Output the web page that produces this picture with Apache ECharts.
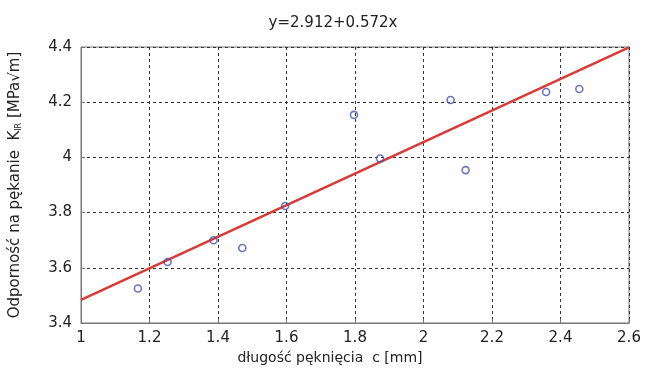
<!DOCTYPE html>
<html>
<head>
<meta charset="utf-8">
<script src="https://cdn.jsdelivr.net/npm/echarts@6/dist/echarts.min.js"></script>
<style>
  html, body { margin: 0; padding: 0; background: #fff; }
  #chart { width: 646px; height: 370px; }
</style>
</head>
<body>
<div id="chart"></div>
<script>
// measured points: crack length c [mm] vs fracture toughness K [MPa√m]
const crackLength = [1.166, 1.253, 1.387, 1.471, 1.596, 1.797, 1.873, 2.079, 2.123, 2.358, 2.455];
const toughness = [3.525, 3.621, 3.700, 3.672, 3.824, 4.154, 3.996, 4.208, 3.954, 4.237, 4.248];

// fitted line y = 2.912 + 0.572x, endpoints at the axis limits
const fitX = [1, 2.6];
const fitY = [3.484, 4.399];

const fitTitle = 'y=2.912+0.572x';
const xName = 'długość pęknięcia  c [mm]';

const font = '"DejaVu Sans", "Liberation Sans", Arial, sans-serif';
const textColor = '#222';

const chart = echarts.init(document.getElementById('chart'));

chart.setOption({
  animation: false,
  backgroundColor: '#fff',
  textStyle: { fontFamily: font },
  title: {
    text: fitTitle,
    left: 328,
    top: 11,
    textAlign: 'center',
    textStyle: { fontFamily: font, fontSize: 15, fontWeight: 'normal', color: textColor }
  },
  grid: {
    left: 79, right: 17, top: 47, bottom: 47,
    show: true, borderColor: '#777', borderWidth: 1
  },
  xAxis: {
    type: 'value',
    min: 1, max: 2.6, interval: 0.2,
    name: xName,
    nameLocation: 'middle',
    nameGap: 27,
    nameTextStyle: { fontFamily: font, fontSize: 14, color: textColor, padding: [0, 50, 0, 0] },
    axisLine: { show: true, lineStyle: { color: '#777' } },
    axisTick: { show: true, inside: true, length: 4, lineStyle: { color: '#777' } },
    axisLabel: { fontFamily: font, fontSize: 15, color: textColor, margin: 8,
      formatter: v => String(Math.round(v * 10) / 10) },
    splitLine: { show: true, lineStyle: { color: '#333', type: [3, 3], width: 1 } }
  },
  yAxis: {
    type: 'value',
    min: 3.4, max: 4.4, interval: 0.2,
    name: '{n|Odporność na pękanie  K}{s|IR}{n| [MPa√m]}',
    nameLocation: 'middle',
    nameRotate: 90,
    nameGap: 58,
    nameTextStyle: {
      rich: {
        n: { fontFamily: font, fontSize: 15, color: textColor },
        s: { fontFamily: font, fontSize: 8, color: textColor, verticalAlign: 'bottom', padding: [6, 0, 0, 0] }
      }
    },
    axisLine: { show: true, lineStyle: { color: '#777' } },
    axisTick: { show: true, inside: true, length: 4, lineStyle: { color: '#777' } },
    axisLabel: { fontFamily: font, fontSize: 15, color: textColor, margin: 9,
      formatter: v => String(Math.round(v * 10) / 10) },
    splitLine: { show: true, lineStyle: { color: '#333', type: [3, 3], width: 1 } }
  },
  series: [
    {
      type: 'line',
      data: fitX.map((x, i) => [x, fitY[i]]),
      symbol: 'none',
      lineStyle: { color: '#d93a36', width: 2.5 },
      z: 3
    },
    {
      type: 'scatter',
      data: crackLength.map((x, i) => [x, toughness[i]]),
      symbol: 'circle',
      symbolSize: 7,
      itemStyle: { color: 'rgba(0,0,0,0)', borderColor: '#4455b0', borderWidth: 1.6 },
      z: 4
    }
  ]
});
</script>
</body>
</html>
